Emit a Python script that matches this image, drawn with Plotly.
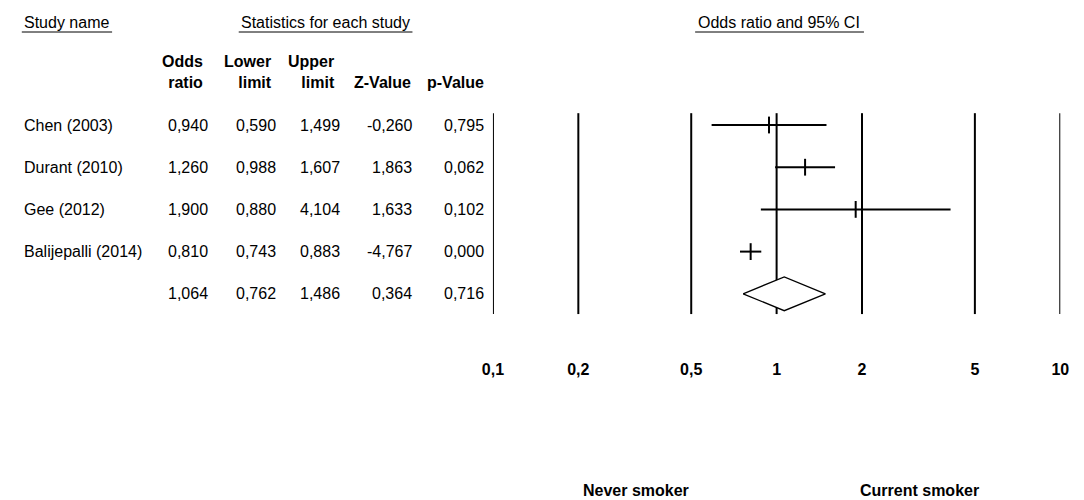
import plotly.graph_objects as go

# ---------------- data ----------------
studies = ["Chen (2003)", "Durant (2010)", "Gee (2012)", "Balijepalli (2014)"]
odds_ratio = [0.940, 1.260, 1.900, 0.810]
lower_limit = [0.590, 0.988, 0.880, 0.743]
upper_limit = [1.499, 1.607, 4.104, 0.883]
z_value = [-0.260, 1.863, 1.633, -4.767]
p_value = [0.795, 0.062, 0.102, 0.000]

pooled_or = 1.064
pooled_lower = 0.762
pooled_upper = 1.486
pooled_z = 0.364
pooled_p = 0.716

tick_vals = [0.1, 0.2, 0.5, 1, 2, 5, 10]
tick_text = ["0,1", "0,2", "0,5", "1", "2", "5", "10"]

col_headers = ["Odds<br>ratio", "Lower<br>limit", "Upper<br>limit", "Z-Value", "p-Value"]
left_label = "Never smoker"
right_label = "Current smoker"

# ---------------- layout constants ----------------
W, H = 1084, 500
FONT = "Arial, Liberation Sans, sans-serif"
row_px0, row_step = 125.0, 42.2       # pixel y of first row and row spacing
plot_bottom_px = 358.0                # bottom of plotting area (x-axis labels below)
x_left_px, x_right_px = 491.0, 1069.0

n_rows = len(studies) + 1
rows = list(range(n_rows))

def fmt(v):
    return f"{v:.3f}".replace(".", ",")

def px(x):
    return x / W

def py(y):
    return 1 - y / H

y_top = -row_px0 / row_step
y_bot = (plot_bottom_px - row_px0) / row_step

fig = go.Figure()

# vertical reference lines at each tick value
vx, vy = [], []
for v in tick_vals:
    vx += [v, v, None]
    vy += [-0.28, 4.48, None]
fig.add_trace(go.Scatter(x=vx, y=vy, mode="lines",
                         line=dict(color="black", width=2),
                         hoverinfo="skip", cliponaxis=False, showlegend=False))

# pooled diamond
sy = n_rows - 1
fig.add_trace(go.Scatter(
    x=[pooled_lower, pooled_or, pooled_upper, pooled_or, pooled_lower],
    y=[sy, sy - 0.4, sy, sy + 0.4, sy],
    mode="lines", fill="toself", fillcolor="white",
    line=dict(color="black", width=1.3),
    hoverinfo="skip", cliponaxis=False, showlegend=False))

# confidence intervals
cx, cy = [], []
for i in range(len(studies)):
    cx += [lower_limit[i], upper_limit[i], None]
    cy += [i, i, None]
fig.add_trace(go.Scatter(x=cx, y=cy, mode="lines",
                         line=dict(color="black", width=2),
                         hoverinfo="skip", cliponaxis=False, showlegend=False))

# point estimates
fig.add_trace(go.Scatter(x=odds_ratio, y=list(range(len(studies))), mode="markers",
                         marker=dict(symbol="line-ns", size=12,
                                     line=dict(color="black", width=2)),
                         hoverinfo="skip", cliponaxis=False, showlegend=False))

# ---------------- table text ----------------
ann = []
txt = dict(family=FONT, size=16, color="black")
bold = dict(family=FONT, size=16, color="black")

all_names = studies + [""]
all_cols = [
    odds_ratio + [pooled_or],
    lower_limit + [pooled_lower],
    upper_limit + [pooled_upper],
    z_value + [pooled_z],
    p_value + [pooled_p],
]
num_right_px = [203, 272, 337, 411, 484]
head_right_px = [198, 268, 332, 410, 484]

for r, name in zip(rows, all_names):
    if name:
        ann.append(dict(x=px(11), y=r, xref="paper", yref="y", text=name,
                        showarrow=False, xanchor="left", yanchor="middle", font=txt))
    for c, col in enumerate(all_cols):
        ann.append(dict(x=px(num_right_px[c]), y=r, xref="paper", yref="y",
                        text=fmt(col[r]), showarrow=False, xanchor="right",
                        yanchor="middle", font=txt))

for c, h in enumerate(col_headers):
    ann.append(dict(x=px(head_right_px[c]), y=py(93), xref="paper", yref="paper",
                    text="<b>" + h + "</b>", showarrow=False, xanchor="right",
                    yanchor="bottom", align="right", font=bold))

# section titles
titles = [("Study name", 11, "left"),
          ("Statistics for each study", 320.5, "center"),
          ("Odds ratio and 95% CI", 782, "center")]
for t, x, anc in titles:
    ann.append(dict(x=px(x), y=py(22), xref="paper", yref="paper", text=t,
                    showarrow=False, xanchor=anc, yanchor="middle", font=txt))

# favour labels
ann.append(dict(x=px(637), y=py(490), xref="paper", yref="paper",
                text="<b>" + left_label + "</b>", showarrow=False,
                xanchor="center", yanchor="middle", font=bold))
ann.append(dict(x=px(926), y=py(490), xref="paper", yref="paper",
                text="<b>" + right_label + "</b>", showarrow=False,
                xanchor="center", yanchor="middle", font=bold))

# underlines of section titles
shapes = []
for x0, x1 in [(11, 103), (232, 409), (697, 869)]:
    shapes.append(dict(type="line", xref="paper", yref="paper",
                       x0=px(x0), x1=px(x1), y0=py(32), y1=py(32),
                       line=dict(color="black", width=1)))

fig.update_layout(
    width=W, height=H,
    margin=dict(l=0, r=0, t=0, b=0),
    paper_bgcolor="white", plot_bgcolor="white",
    showlegend=False,
    annotations=ann, shapes=shapes,
    xaxis=dict(type="log", range=[-1, 1],
               domain=[px(x_left_px), px(x_right_px)],
               tickvals=tick_vals, ticktext=tick_text,
               tickfont=dict(family=FONT, size=16, color="black", weight="bold"),
               showgrid=False, zeroline=False, showline=False, ticks="",
               ticklabelstandoff=0, fixedrange=True),
    yaxis=dict(range=[y_bot, y_top], domain=[py(plot_bottom_px), 1],
               visible=False, showgrid=False, zeroline=False, fixedrange=True),
)

fig.write_html("out.html")
